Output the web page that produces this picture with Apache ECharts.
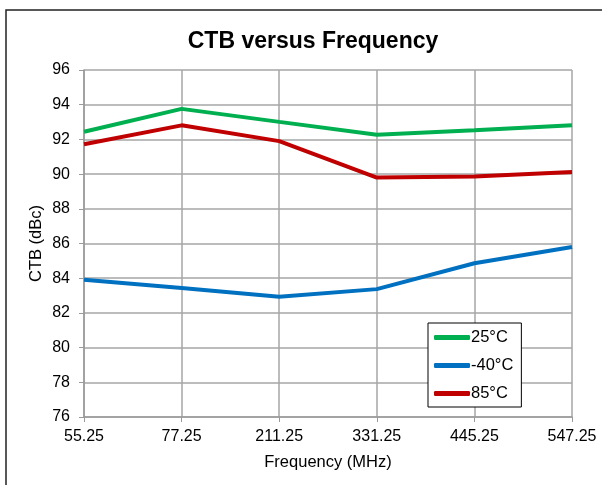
<!DOCTYPE html>
<html>
<head>
<meta charset="utf-8">
<script src="https://cdn.jsdelivr.net/npm/echarts@6/dist/echarts.min.js"></script>
<style>html,body{margin:0;padding:0;background:#fff}#c{width:602px;height:485px}</style>
</head>
<body>
<div id="c"></div>
<script>
const categories = ['55.25', '77.25', '211.25', '331.25', '445.25', '547.25'];
const seriesNames = ['25°C', '-40°C', '85°C'];
const t25 = [92.44, 93.76, 93.01, 92.27, 92.53, 92.81];
const tm40 = [83.91, 83.43, 82.93, 83.37, 84.86, 85.8];
const t85 = [91.72, 92.81, 91.9, 89.8, 89.86, 90.12];
const colors = ['#00B050', '#0070C0', '#C00000'];

const FONT = 'Liberation Sans, Arial, sans-serif';
const chart = echarts.init(document.getElementById('c'));
chart.setOption({
  animation: false,
  backgroundColor: '#fff',
  title: {
    text: 'CTB versus Frequency',
    left: 308, top: 25, textAlign: 'center',
    textStyle: { fontFamily: FONT, fontWeight: 'bold', fontSize: 23, color: '#000' }
  },
  graphic: [{
    type: 'rect', shape: { x: 6, y: 10, width: 700, height: 600 },
    style: { fill: 'none', stroke: '#222', lineWidth: 1.5 }, silent: true, z: -1
  }],
  legend: {
    orient: 'vertical', left: 428, top: 323,
    padding: [6, 8, 5, 6], itemGap: 11,
    itemWidth: 36, itemHeight: 5,
    borderColor: '#000', borderWidth: 1, backgroundColor: '#fff',
    icon: 'roundRect',
    textStyle: { fontFamily: FONT, fontSize: 16.5, color: '#000', lineHeight: 16, padding: [0, 0, 0, -4] },
    data: seriesNames
  },
  grid: { left: 84, right: 30, top: 70, bottom: 68 },
  xAxis: {
    type: 'category', data: categories, boundaryGap: false,
    name: 'Frequency (MHz)', nameLocation: 'middle', nameGap: 37,
    nameTextStyle: { fontFamily: FONT, fontSize: 16.5, color: '#000' },
    axisLine: { lineStyle: { color: '#9a9a9a', width: 1.5 } },
    axisTick: { show: true, length: 5, lineStyle: { color: '#9a9a9a' } },
    axisLabel: { fontFamily: FONT, fontSize: 16, color: '#000', margin: 12 },
    splitLine: { show: true, lineStyle: { color: '#a6a6a6', width: 1.5 } }
  },
  yAxis: {
    type: 'value', min: 76, max: 96, interval: 2,
    name: 'CTB (dBc)', nameLocation: 'middle', nameGap: 39, nameMoveOverlap: false,
    nameTextStyle: { fontFamily: FONT, fontSize: 16.5, color: '#000' },
    axisLine: { show: true, lineStyle: { color: '#9a9a9a', width: 1.5 } },
    axisTick: { show: true, length: 5, lineStyle: { color: '#9a9a9a' } },
    axisLabel: { fontFamily: FONT, fontSize: 16, color: '#000', margin: 14 },
    splitLine: { show: true, lineStyle: { color: '#a6a6a6', width: 1.5 } }
  },
  series: [
    { name: seriesNames[0], type: 'line', data: t25, showSymbol: false, symbol: 'none', lineStyle: { width: 4, color: colors[0] }, itemStyle: { color: colors[0] } },
    { name: seriesNames[1], type: 'line', data: tm40, showSymbol: false, symbol: 'none', lineStyle: { width: 4, color: colors[1] }, itemStyle: { color: colors[1] } },
    { name: seriesNames[2], type: 'line', data: t85, showSymbol: false, symbol: 'none', lineStyle: { width: 4, color: colors[2] }, itemStyle: { color: colors[2] } }
  ]
});
</script>
</body>
</html>
